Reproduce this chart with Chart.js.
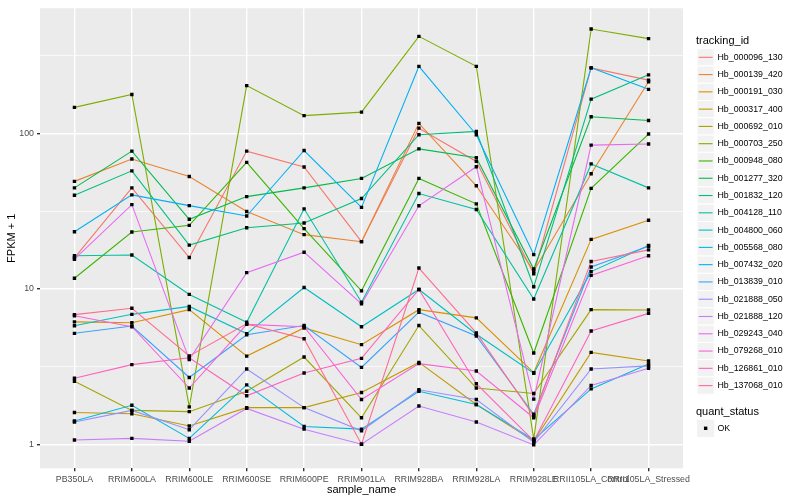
<!DOCTYPE html>
<html>
<head>
<meta charset="utf-8">
<script src="https://cdn.jsdelivr.net/npm/chart.js@4.4.1/dist/chart.umd.min.js"></script>
<style>
  html, body { margin: 0; padding: 0; background: #ffffff; }
  #wrap { width: 800px; height: 500px; }
</style>
</head>
<body>
<div id="wrap"><canvas id="fpkmChart" width="800" height="500"></canvas></div>
<script>
// x categories
const sampleNames = [
  "PB350LA", "RRIM600LA", "RRIM600LE", "RRIM600SE", "RRIM600PE", "RRIM901LA",
  "RRIM928BA", "RRIM928LA", "RRIM928LE", "RRII105LA_Control", "RRII105LA_Stressed",
];

// FPKM + 1 per gene, one value per sample
const Hb_000096_130 = [15.8, 44.6, 15.9, 76.9, 60.8, 20.1, 108, 66, 12.5, 264, 220];
const Hb_000139_420 = [49.1, 68.4, 52.8, 31.4, 22.3, 20.1, 116, 46, 13.0, 55, 215];
const Hb_000191_030 = [6.13, 6.05, 7.34, 3.69, 5.6, 4.37, 7.34, 6.5, 2.89, 20.8, 27.6];
const Hb_000317_400 = [1.60, 1.57, 1.31, 1.72, 1.72, 2.15, 3.36, 1.80, 1.05, 3.9, 3.43];
const Hb_000692_010 = [2.54, 1.65, 1.62, 2.19, 3.64, 1.48, 5.8, 2.30, 2.12, 7.34, 7.3];
const Hb_000703_250 = [147, 178, 1.74, 203, 130, 137, 421, 270, 1.08, 469, 407];
const Hb_000948_080 = [11.7, 23.2, 25.6, 65.1, 24.4, 9.7, 51.3, 35.2, 3.86, 44.3, 99];
const Hb_001277_320 = [44.6, 76.9, 28.0, 39.2, 44.6, 51.3, 79.5, 69.7, 13.4, 128, 121];
const Hb_001832_120 = [40.0, 57.4, 19.1, 24.7, 26.5, 38.1, 98, 103, 10.3, 166, 238];
const Hb_004128_110 = [16.3, 16.5, 9.2, 6.1, 32.7, 8.2, 41, 32.4, 8.6, 63.6, 44.6];
const Hb_004800_060 = [5.78, 6.85, 7.7, 5.15, 10.2, 5.7, 9.9, 5.1, 2.86, 12.9, 19.0];
const Hb_005568_080 = [1.41, 1.78, 1.09, 2.41, 1.30, 1.25, 2.19, 1.80, 1.07, 2.27, 3.28];
const Hb_007432_020 = [23.3, 40.2, 34.3, 29.4, 77.6, 33.4, 270, 98, 16.6, 264, 192];
const Hb_013839_010 = [5.17, 5.76, 2.69, 5.06, 5.8, 3.12, 7.07, 4.97, 1.56, 13.8, 18.8];
const Hb_021888_050 = [1.39, 1.65, 1.24, 3.05, 1.72, 1.22, 2.24, 1.94, 1.03, 3.05, 3.19];
const Hb_021888_120 = [1.065, 1.09, 1.045, 1.70, 1.25, 1.0, 1.76, 1.39, 0.99, 2.39, 3.08];
const Hb_029243_040 = [15.5, 34.8, 3.5, 12.7, 17.2, 8.0, 34.2, 61, 1.95, 84, 85.5];
const Hb_079268_010 = [6.7, 5.7, 2.3, 5.9, 5.7, 1.94, 3.3, 2.96, 1.48, 12.2, 16.3];
const Hb_126861_010 = [2.66, 3.25, 3.6, 2.05, 2.87, 3.57, 9.9, 2.45, 1.05, 5.35, 6.95];
const Hb_137068_010 = [6.82, 7.5, 3.7, 5.95, 4.77, 1.0, 13.6, 5.2, 1.52, 15.0, 17.8];

const trackingIds = [
  "Hb_000096_130", "Hb_000139_420", "Hb_000191_030", "Hb_000317_400", "Hb_000692_010",
  "Hb_000703_250", "Hb_000948_080", "Hb_001277_320", "Hb_001832_120", "Hb_004128_110",
  "Hb_004800_060", "Hb_005568_080", "Hb_007432_020", "Hb_013839_010", "Hb_021888_050",
  "Hb_021888_120", "Hb_029243_040", "Hb_079268_010", "Hb_126861_010", "Hb_137068_010",
];
const seriesValues = [
  Hb_000096_130, Hb_000139_420, Hb_000191_030, Hb_000317_400, Hb_000692_010,
  Hb_000703_250, Hb_000948_080, Hb_001277_320, Hb_001832_120, Hb_004128_110,
  Hb_004800_060, Hb_005568_080, Hb_007432_020, Hb_013839_010, Hb_021888_050,
  Hb_021888_120, Hb_029243_040, Hb_079268_010, Hb_126861_010, Hb_137068_010,
];
// ggplot2 default hue palette, 20 levels
const seriesColors = [
  "#F8766D", "#EA8331", "#D89000", "#C09B00", "#A3A500",
  "#7CAE00", "#39B600", "#00BB4E", "#00BF7D", "#00C1A3",
  "#00BFC4", "#00BAE0", "#00B0F6", "#35A2FF", "#9590FF",
  "#C77CFF", "#E76BF3", "#FA62DB", "#FF62BC", "#FF6C91",
];

const yMajorTicks = [1, 10, 100];
const yMinorTicks = [3.1623, 31.623, 316.23];

const FONT = '"Liberation Sans", Arial, Helvetica, sans-serif';
Chart.defaults.font.family = FONT;

const lineSets = seriesValues.map((vals, i) => ({
  label: trackingIds[i],
  data: vals.map((v, j) => ({ x: j, y: v })),
  borderColor: seriesColors[i],
  borderWidth: 1.1,
  pointRadius: 0,
  tension: 0,
  fill: false,
  order: 100 - i,
}));

const pointSet = {
  label: "OK",
  data: seriesValues.flatMap((vals) => vals.map((v, j) => ({ x: j, y: v }))),
  showLine: false,
  pointStyle: "rect",
  pointRadius: 2.4,
  pointBorderWidth: 0,
  pointBackgroundColor: "#000000",
  order: 0,
};

// grey panel like ggplot
const panelBackground = {
  id: "panelBackground",
  beforeDraw(chart) {
    const { ctx, chartArea: a } = chart;
    ctx.save();
    ctx.fillStyle = "#EBEBEB";
    ctx.fillRect(a.left, a.top, a.right - a.left, a.bottom - a.top);
    ctx.restore();
  },
};

// ggplot style legends on the right
const ggLegend = {
  id: "ggLegend",
  afterDraw(chart) {
    const ctx = chart.ctx;
    const key = 17.28;
    const keyX = 697;
    const textX = 717.5;
    ctx.save();
    ctx.textBaseline = "middle";
    ctx.textAlign = "left";

    ctx.fillStyle = "#000000";
    ctx.font = "11px " + FONT;
    ctx.fillText("tracking_id", 696, 40.5);

    trackingIds.forEach((id, i) => {
      const cy = 57.3 + i * key;
      ctx.fillStyle = "#F2F2F2";
      ctx.fillRect(keyX, cy - key / 2, key, key);
      ctx.strokeStyle = "#FFFFFF";
      ctx.lineWidth = 1;
      ctx.strokeRect(keyX, cy - key / 2, key, key);
      ctx.strokeStyle = seriesColors[i];
      ctx.lineWidth = 1.1;
      ctx.beginPath();
      ctx.moveTo(keyX + 1.7, cy);
      ctx.lineTo(keyX + key - 1.7, cy);
      ctx.stroke();
      ctx.fillStyle = "#000000";
      ctx.font = "8.8px " + FONT;
      ctx.fillText(id, textX, cy);
    });

    ctx.fillStyle = "#000000";
    ctx.font = "11px " + FONT;
    ctx.fillText("quant_status", 696, 411.5);
    const okY = 428.3;
    ctx.fillStyle = "#F2F2F2";
    ctx.fillRect(keyX, okY - key / 2, key, key);
    ctx.fillStyle = "#000000";
    ctx.fillRect(keyX + key / 2 - 1.7, okY - 1.7, 3.4, 3.4);
    ctx.font = "8.8px " + FONT;
    ctx.fillText("OK", textX, okY);
    ctx.restore();
  },
};

const ctx = document.getElementById("fpkmChart").getContext("2d");
const fpkmChart = new Chart(ctx, {
  type: "line",
  data: { datasets: [...lineSets, pointSet] },
  options: {
    responsive: false,
    animation: false,
    devicePixelRatio: 1,
    layout: { padding: { left: 0, right: 117, top: 5, bottom: 0 } },
    plugins: {
      legend: { display: false },
      tooltip: { enabled: false },
    },
    scales: {
      x: {
        type: "linear",
        min: -0.6,
        max: 10.6,
        afterBuildTicks: (scale) => {
          scale.ticks = sampleNames.map((_, i) => ({ value: i }));
        },
        afterFit: (scale) => {
          scale.height = 31.7;
        },
        ticks: {
          callback: (v, i) => sampleNames[i],
          autoSkip: false,
          maxRotation: 0,
          minRotation: 0,
          color: "#4D4D4D",
          font: { size: 8.8 },
          padding: 3,
        },
        grid: { color: "#FFFFFF", lineWidth: 1.4, tickColor: "#333333", tickLength: 3 },
        border: { display: false },
        title: {
          display: true,
          text: "sample_name",
          color: "#000000",
          font: { size: 11 },
          padding: { top: 0, bottom: 3 },
        },
      },
      y: {
        type: "logarithmic",
        min: 0.728,
        max: 638,
        afterBuildTicks: (scale) => {
          scale.ticks = [...yMajorTicks, ...yMinorTicks]
            .sort((a, b) => a - b)
            .map((v) => ({ value: v }));
        },
        afterFit: (scale) => {
          scale.width = 40;
        },
        ticks: {
          callback: (v) => (yMajorTicks.includes(v) ? String(v) : ""),
          autoSkip: false,
          color: "#4D4D4D",
          font: { size: 8.8 },
          padding: 3,
        },
        grid: {
          color: "#FFFFFF",
          lineWidth: (c) => (c.tick && yMajorTicks.includes(c.tick.value) ? 1.4 : 0.7),
          tickColor: (c) => (c.tick && yMajorTicks.includes(c.tick.value) ? "#333333" : "rgba(0,0,0,0)"),
          tickLength: 3,
        },
        border: { display: false },
        title: {
          display: true,
          text: "FPKM + 1",
          color: "#000000",
          font: { size: 11 },
          padding: { top: 5, bottom: 0 },
        },
      },
    },
  },
  plugins: [panelBackground, ggLegend],
});
</script>
</body>
</html>
